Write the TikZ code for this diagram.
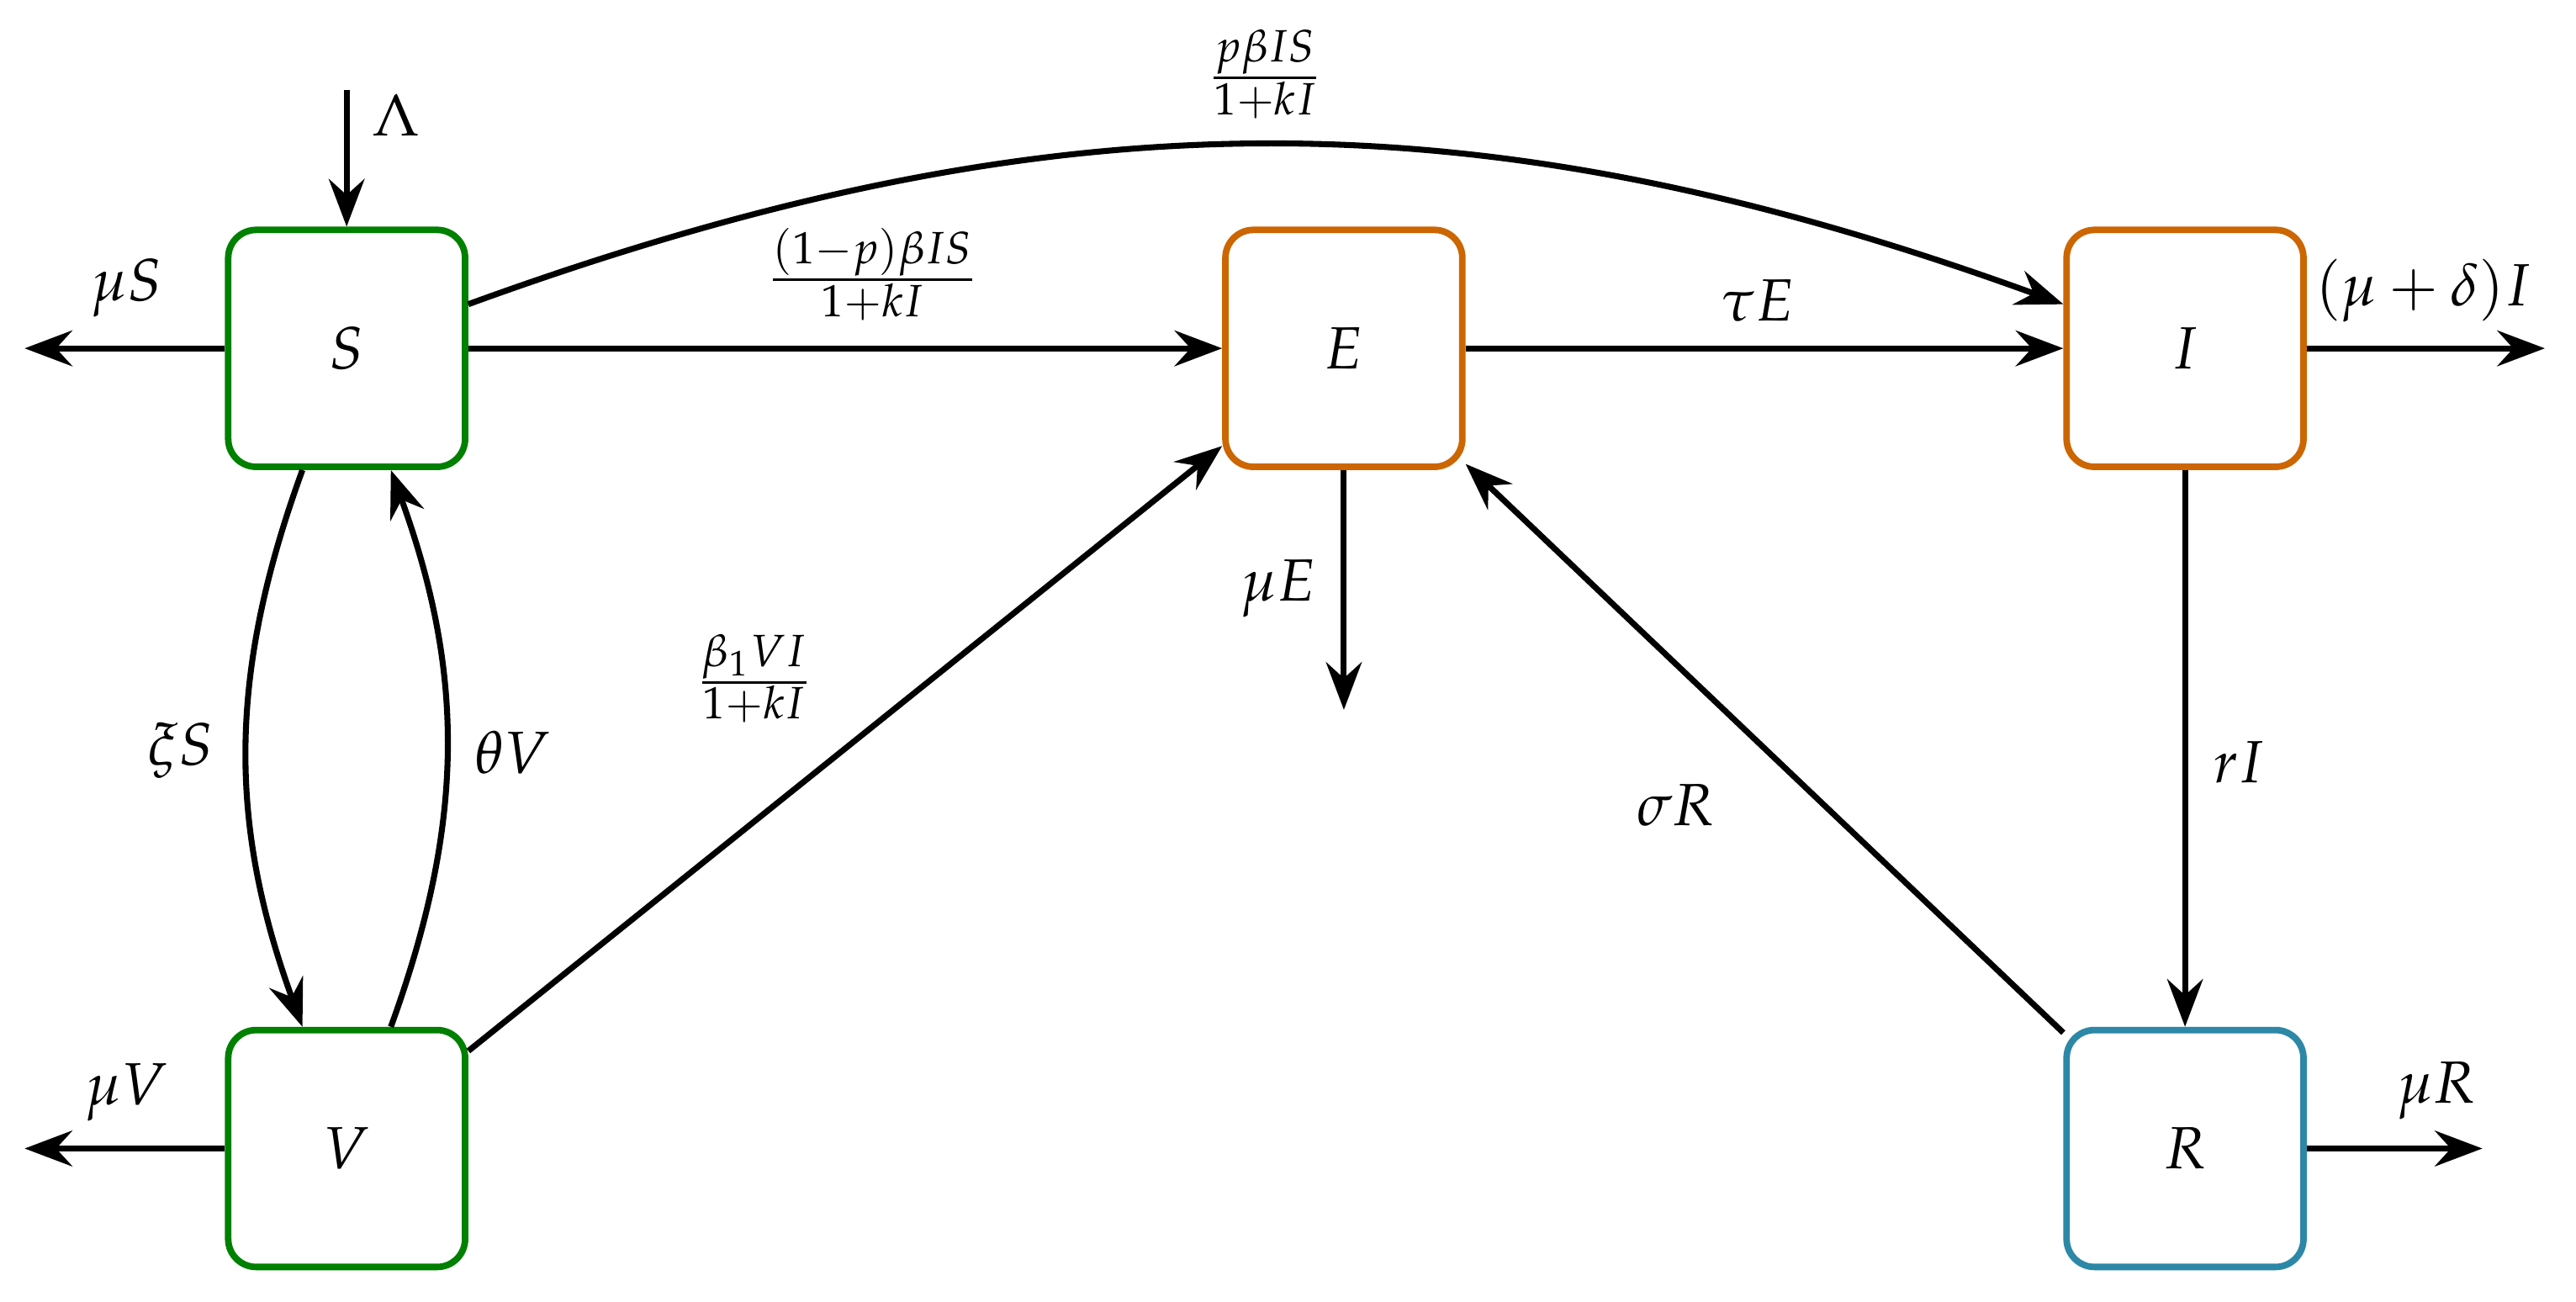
\documentclass[tikz,border=0pt]{standalone}
\usepackage{mathpazo}
\usetikzlibrary{arrows.meta}
\definecolor{sgreen}{RGB}{0,128,0}
\definecolor{eorange}{RGB}{204,102,0}
\definecolor{rblue}{RGB}{44,136,166}
\begin{document}
\begin{tikzpicture}[x=0.276pt,y=-0.276pt,
  comp/.style={draw, line width=1.1pt, rounded corners=4.7pt, minimum width=39.8pt, minimum height=39.8pt, inner sep=0pt, fill=white},
  flow/.style={line width=1pt, -{Stealth[length=8pt,width=6pt,inset=2.7pt]}},
  lbl/.style={inner sep=0pt}]
\useasboundingbox (0,0) rectangle (1568,792);
% compartments
\node[comp, draw=sgreen] (S) at (211,212) {$S$};
\node[comp, draw=eorange] (E) at (818,212) {$E$};
\node[comp, draw=eorange] (I) at (1330,212) {$I$};
\node[comp, draw=sgreen] (V) at (211,699) {$V$};
\node[comp, draw=rblue] (R) at (1330,699) {$R$};
% free ends
\coordinate (lamin) at (211,55);
\coordinate (sout) at (15,212);
\coordinate (vout) at (15,699);
\coordinate (iout) at (1549,212);
\coordinate (rout) at (1511,699);
\coordinate (eout) at (818,432);
% flows
\draw[flow] (lamin) -- (S);
\draw[flow] (S) -- (sout);
\draw[flow] (S) -- (E);
\draw[flow] (S) to[bend left=20] (I);
\draw[flow] (E) -- (I);
\draw[flow] (I) -- (iout);
\draw[flow] (E) -- (eout);
\draw[flow] (I) -- (R);
\draw[flow] (R) -- (E);
\draw[flow] (V) -- (E);
\draw[flow] (S) to[bend right=20] (V);
\draw[flow] (V) to[bend right=20] (S);
\draw[flow] (V) -- (vout);
\draw[flow] (R) -- (rout);
% labels
\node[lbl] (lLam) at (241,70) {$\Lambda$};
\node[lbl] (lmuS) at (77,175) {$\mu S$};
\node[lbl] (lSE) at (531,167) {$\frac{(1-p)\beta IS}{1+kI}$};
\node[lbl] (lSI) at (770,45) {$\frac{p\beta IS}{1+kI}$};
\node[lbl] (ltau) at (1070,183) {$\tau E$};
\node[lbl] (lmud) at (1475,177) {$(\mu+\delta)I$};
\node[lbl] (lmuE) at (778,358) {$\mu E$};
\node[lbl] (lrI) at (1363,464) {$rI$};
\node[lbl] (lsig) at (1020,490) {$\sigma R$};
\node[lbl] (lxi) at (110,457) {$\xi S$};
\node[lbl] (lth) at (312,458) {$\theta V$};
\node[lbl] (lVE) at (459,413) {$\frac{\beta_1 VI}{1+kI}$};
\node[lbl] (lmuV) at (77,665) {$\mu V$};
\node[lbl] (lmuR) at (1483,664) {$\mu R$};
\end{tikzpicture}
\end{document}
